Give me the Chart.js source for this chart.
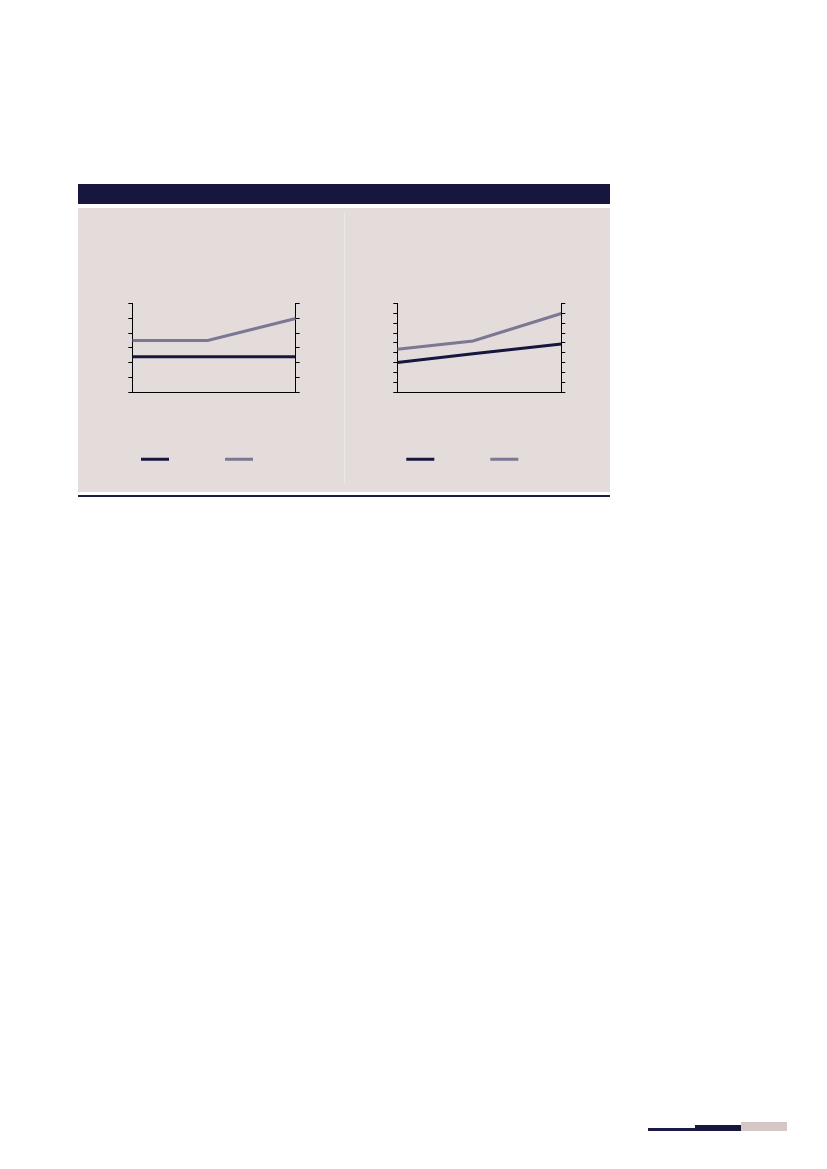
<!DOCTYPE html>
<html>
<head>
<meta charset="utf-8">
<script src="https://cdn.jsdelivr.net/npm/chart.js@4.4.1/dist/chart.umd.min.js"></script>
<style>
  html,body{margin:0;padding:0;background:#fff;}
  body{width:827px;height:1169px;position:relative;overflow:hidden;font-family:"Liberation Sans",Arial,sans-serif;}
  .hdr{position:absolute;left:78px;top:184px;width:532px;height:20px;background:#16163e;}
  .panel{position:absolute;left:78px;top:208px;width:532px;height:284px;background:#e3dcdb;}
  .divider{position:absolute;left:344px;top:213px;width:1px;height:271px;background:#ece8e7;}
  .rule{position:absolute;left:78px;top:495px;width:532px;height:2px;background:#1b1b48;}
  .chartbox{position:absolute;top:208px;width:266px;height:284px;}
  .ft1{position:absolute;left:648px;top:1128px;width:47px;height:3px;background:#1b1b48;}
  .ft2{position:absolute;left:695px;top:1125px;width:46px;height:6px;background:#16163e;}
  .ft3{position:absolute;left:741px;top:1122px;width:46px;height:9px;background:#d5c7c6;}
</style>
</head>
<body>
<div class="hdr"></div>
<div class="panel"></div>
<div class="divider"></div>
<div class="rule"></div>
<div class="chartbox" style="left:78px"><canvas id="c1"></canvas></div>
<div class="chartbox" style="left:344px"><canvas id="c2"></canvas></div>
<div class="ft1"></div><div class="ft2"></div><div class="ft3"></div>
<script>
// x positions of the three periods (middle one sits a bit left of centre)
const periods = [0, 6, 13];

// left panel
const leftDark = [2.4, 2.4, 2.4];
const leftGray = [3.5, 3.5, 5.0];
const leftMax = 6;

// right panel
const rightDark = [3.0, 3.9, 4.9];
const rightGray = [4.35, 5.2, 8.0];
const rightMax = 9;

const DARK = '#16163f';
const GRAY = '#7a7892';

function pts(vals){ return vals.map((v,i)=>({x:periods[i], y:v})); }

function makeChart(id, dark, gray, ymax, lay){
  const yAxis = (pos, w) => ({
    type:'linear', position:pos, min:0, max:ymax,
    ticks:{ display:false, stepSize:1 },
    grid:{ display:true, drawOnChartArea:false, drawTicks:true, tickLength:4, color:'#000', lineWidth:1 },
    border:{ display:true, color:'#000', width:1 },
    afterFit(s){ s.width = w; }
  });
  return new Chart(document.getElementById(id), {
    type:'line',
    data:{ datasets:[
      { label:'', data:pts(dark), borderColor:DARK, backgroundColor:DARK, borderWidth:3, pointRadius:0, tension:0 },
      { label:'', data:pts(gray), borderColor:GRAY, backgroundColor:GRAY, borderWidth:3, pointRadius:0, tension:0 }
    ]},
    options:{
      responsive:true, maintainAspectRatio:false, animation:false,
      layout:{ padding:{ left:lay.pl, right:lay.pr, top:lay.pt, bottom:lay.pb } },
      scales:{
        x:{ type:'linear', min:periods[0], max:periods[periods.length-1],
            ticks:{ display:false }, grid:{ display:false },
            border:{ display:true, color:'#000', width:1 },
            afterFit(s){ s.height = lay.xh; } },
        y: yAxis('left', lay.wl),
        y2: yAxis('right', lay.wr)
      },
      plugins:{
        legend:{ position:'bottom', align:'center',
          labels:{ usePointStyle:true, pointStyle:'line', pointStyleWidth:28, padding:50, font:{ size:12 } } },
        tooltip:{ enabled:false }
      }
    }
  });
}

makeChart('c1', leftDark, leftGray, leftMax, { pl:4, pr:26, pt:95.7, pb:16.7, wl:50.3, wr:22.3, xh:11.3 });
makeChart('c2', rightDark, rightGray, rightMax, { pl:4, pr:27.4, pt:95.7, pb:16.7, wl:49.3, wr:21.3, xh:11.3 });
</script>
</body>
</html>
